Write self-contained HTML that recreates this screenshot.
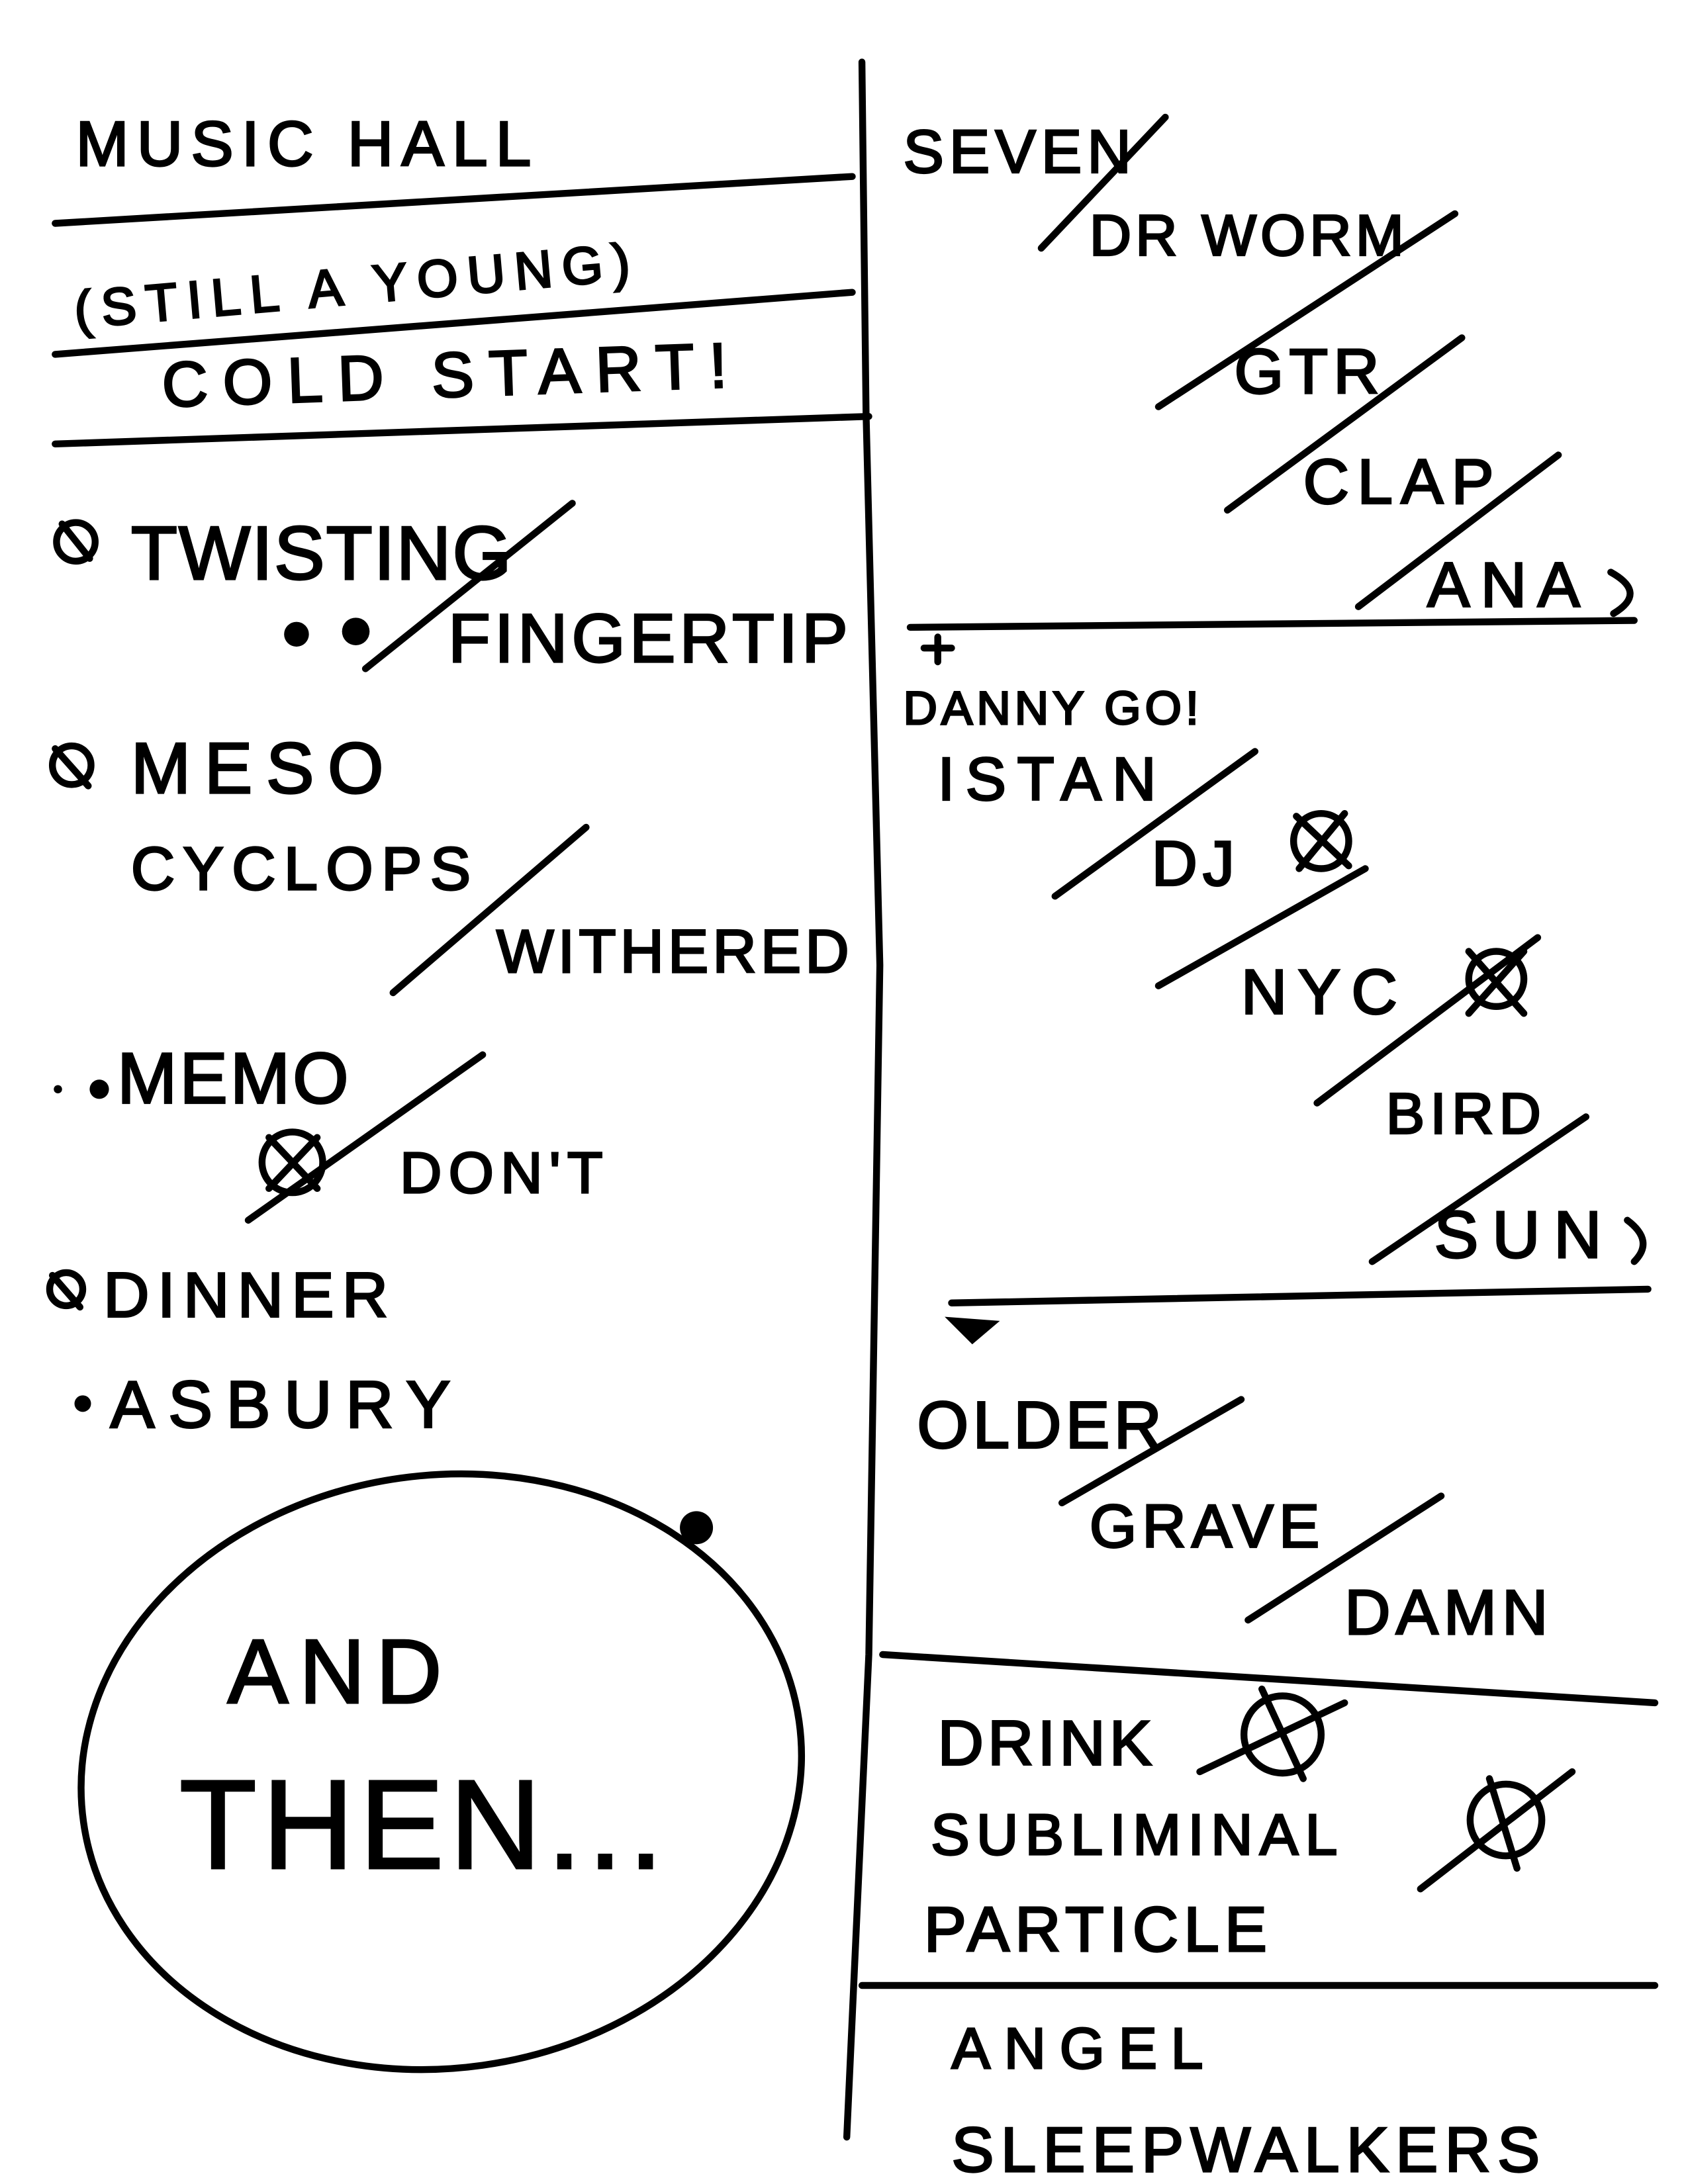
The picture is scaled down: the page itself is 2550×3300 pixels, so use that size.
<!DOCTYPE html>
<html><head><meta charset="utf-8"><style>
html,body{margin:0;padding:0;background:#fff}
svg{display:block}
text{font-family:"Liberation Sans",sans-serif;fill:#000;stroke:#000;stroke-width:1.5}
</style></head><body>
<svg width="2550" height="3300" viewBox="0 0 1224 1584" preserveAspectRatio="none" xmlns="http://www.w3.org/2000/svg">
<rect width="1224" height="1584" fill="#fff"/>
<g fill="none" stroke="#000" stroke-width="5" stroke-linecap="round">
<path d="M625,45 L628,300 L638,700 L630,1200 L614,1550"/>
<path d="M40,162 L618,128"/>
<path d="M40,257 L618,212"/>
<path d="M40,322 L630,302"/>
<path d="M660,455 L1185,450"/>
<path d="M680,462 L680,480 M670,470 L690,470"/>
<path d="M690,945 L1195,935"/>
<path d="M640,1200 L1200,1235"/>
<path d="M625,1440 L1200,1440"/>
<ellipse cx="320" cy="1285" rx="262" ry="215" transform="rotate(-8 320 1285)"/>
<path d="M1168,415 Q1195,430 1170,445"/>
<path d="M1180,885 Q1200,900 1185,915"/>
<path d="M265,485 L415,365"/>
<path d="M285,720 L425,600"/>
<path d="M180,885 L350,765"/>
<path d="M755,180 L845,85"/>
<path d="M840,295 L1055,155"/>
<path d="M890,370 L1060,245"/>
<path d="M985,440 L1130,330"/>
<path d="M765,650 L910,545"/>
<path d="M840,715 L990,630"/>
<path d="M955,800 L1115,680"/>
<path d="M995,915 L1150,810"/>
<path d="M770,1090 L900,1015"/>
<path d="M905,1175 L1045,1085"/>
<path d="M870,1285 L975,1235"/>
<path d="M1030,1370 L1140,1285"/>
<g>
<circle cx="55" cy="393" r="14"/><path d="M45,380 L65,405"/>
<circle cx="52" cy="555" r="14"/><path d="M40,543 L64,570"/>
<circle cx="212" cy="843" r="22"/><path d="M195,825 L230,862 M230,825 L195,862"/>
<circle cx="48" cy="935" r="12"/><path d="M38,925 L58,948"/>
<circle cx="958" cy="610" r="20"/><path d="M940,592 L978,628 M975,590 L942,630"/>
<circle cx="1085" cy="710" r="20"/><path d="M1065,690 L1105,735 M1105,690 L1065,735"/>
<circle cx="930" cy="1258" r="28"/><path d="M915,1225 L945,1290"/>
<circle cx="1092" cy="1320" r="26"/><path d="M1080,1290 L1100,1355"/>
</g>
</g>
<g fill="#000">
<circle cx="215" cy="460" r="9"/><circle cx="258" cy="458" r="10"/>
<circle cx="72" cy="790" r="7"/><circle cx="42" cy="790" r="3"/>
<circle cx="60" cy="1018" r="6"/>
<path d="M685,955 L725,958 L705,975 Z"/>
<circle cx="505" cy="1108" r="12"/>
</g>
<text x="55" y="120" font-size="46" letter-spacing="6">MUSIC HALL</text>
<text x="55" y="238" font-size="38" letter-spacing="7" transform="rotate(-5 55 238)">(STILL A YOUNG)</text>
<text x="118" y="295" font-size="46" letter-spacing="11" transform="rotate(-2 118 295)">COLD START!</text>
<text x="95" y="420" font-size="55" letter-spacing="1">TWISTING</text>
<text x="325" y="480" font-size="50" letter-spacing="3">FINGERTIP</text>
<text x="95" y="575" font-size="52" letter-spacing="10">MESO</text>
<text x="95" y="645" font-size="44" letter-spacing="6">CYCLOPS</text>
<text x="360" y="705" font-size="44" letter-spacing="3">WITHERED</text>
<text x="85" y="800" font-size="52" letter-spacing="2">MEMO</text>
<text x="290" y="865" font-size="42" letter-spacing="5">DON'T</text>
<text x="75" y="955" font-size="46" letter-spacing="6">DINNER</text>
<text x="80" y="1035" font-size="48" letter-spacing="10">ASBURY</text>
<text x="165" y="1235" font-size="66" letter-spacing="8">AND</text>
<text x="130" y="1355" font-size="92" letter-spacing="4">THEN...</text>
<text x="655" y="125" font-size="44" letter-spacing="4">SEVEN</text>
<text x="790" y="185" font-size="42" letter-spacing="3">DR WORM</text>
<text x="895" y="285" font-size="46" letter-spacing="4">GTR</text>
<text x="945" y="365" font-size="46" letter-spacing="6">CLAP</text>
<text x="1035" y="440" font-size="46" letter-spacing="8">ANA</text>
<text x="655" y="525" font-size="34" letter-spacing="3">DANNY GO!</text>
<text x="680" y="580" font-size="44" letter-spacing="8">ISTAN</text>
<text x="835" y="642" font-size="46" letter-spacing="4">DJ</text>
<text x="900" y="735" font-size="46" letter-spacing="8">NYC</text>
<text x="1005" y="822" font-size="42" letter-spacing="4">BIRD</text>
<text x="1040" y="912" font-size="48" letter-spacing="10">SUN</text>
<text x="665" y="1050" font-size="48" letter-spacing="3">OLDER</text>
<text x="790" y="1122" font-size="44" letter-spacing="4">GRAVE</text>
<text x="975" y="1185" font-size="46" letter-spacing="4">DAMN</text>
<text x="680" y="1280" font-size="46" letter-spacing="3">DRINK</text>
<text x="675" y="1345" font-size="42" letter-spacing="5">SUBLIMINAL</text>
<text x="670" y="1415" font-size="46" letter-spacing="4">PARTICLE</text>
<text x="690" y="1500" font-size="42" letter-spacing="10">ANGEL</text>
<text x="690" y="1575" font-size="46" letter-spacing="5">SLEEPWALKERS</text>
</svg>
</body></html>
